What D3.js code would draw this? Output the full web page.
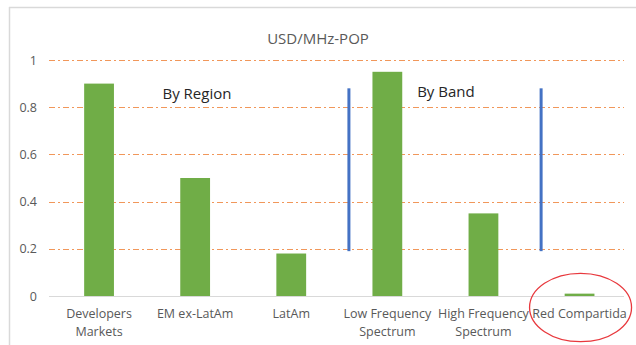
<!DOCTYPE html>
<html><head><meta charset="utf-8">
<script src="https://cdn.jsdelivr.net/npm/d3@7"></script>
<style>body{margin:0;background:#fff}svg{display:block}text{font-family:"Open Sans",sans-serif}</style>
</head><body><svg id="c" width="636" height="345"></svg>
<script>
const categories = [["Developers","Markets"],["EM ex-LatAm"],["LatAm"],["Low Frequency","Spectrum"],["High Frequency","Spectrum"],["Red Compartida"]];
const values = [0.9, 0.5, 0.18, 0.95, 0.35, 0.01];
const yTicks = [0, 0.2, 0.4, 0.6, 0.8, 1];
const dividerPos = [2.6, 4.6];      // in category units (index of centers)
const dividerRange = [0.19, 0.88];
const groupLabels = [{text:"By Region", at:0.66, v:0.835},{text:"By Band", at:3.31, v:0.845}];
const title = "USD/MHz-POP";

const svg = d3.select("#c");
svg.append("rect").attr("width",636).attr("height",345).attr("fill","#fff");
svg.append("line").attr("x1",9).attr("x2",636).attr("y1",7.5).attr("y2",7.5).attr("stroke","#d9d9d9").attr("stroke-width",1.5);
svg.append("line").attr("x1",9.5).attr("x2",9.5).attr("y1",7).attr("y2",345).attr("stroke","#d9d9d9").attr("stroke-width",1.5);

const x = d3.scaleBand().domain(d3.range(categories.length)).range([51,627.6]).paddingInner(0.69).paddingOuter(0.345);
const y = d3.scaleLinear().domain([0,1]).range([296,60]);
const step = x.step();
const cx = i => x(i) + x.bandwidth()/2;
const cxc = p => cx(0) + p*step;

svg.append("g").selectAll("line").data(yTicks.filter(d=>d>0)).join("line")
  .attr("x1",49).attr("x2",624).attr("y1",d=>Math.round(y(d))+0.5).attr("y2",d=>Math.round(y(d))+0.5)
  .attr("stroke","#ED7D31").attr("stroke-opacity",0.8).attr("stroke-width",1.2).attr("stroke-dasharray","6,3,2,3");
svg.append("line").attr("x1",49).attr("x2",624).attr("y1",y(0)+0.5).attr("y2",y(0)+0.5).attr("stroke","#d9d9d9").attr("stroke-width",1);

svg.append("g").selectAll("text").data(yTicks).join("text")
  .attr("x",37).attr("y",d=>y(d)+4.5).attr("text-anchor","end").attr("font-size",12.5).attr("fill","#595959")
  .text(d=>d3.format("~g")(d));

svg.append("g").selectAll("rect").data(values).join("rect")
  .attr("x",(d,i)=>x(i)).attr("width",x.bandwidth()).attr("y",d=>y(d)).attr("height",d=>y(0)-y(d))
  .attr("fill","#70AD47");

svg.append("g").selectAll("line").data(dividerPos).join("line")
  .attr("x1",d=>cxc(d)).attr("x2",d=>cxc(d)).attr("y1",y(dividerRange[1])).attr("y2",y(dividerRange[0]))
  .attr("stroke","#4472C4").attr("stroke-width",3);

const xl = svg.append("g").selectAll("text").data(categories).join("text")
  .attr("text-anchor","middle").attr("font-size",12.5).attr("fill","#595959");
xl.each(function(lines,i){
  const t=d3.select(this);
  lines.forEach((l,k)=>t.append("tspan").attr("x",cx(i)).attr("y",318+k*17.5).text(l));
});

svg.append("text").attr("x",318).attr("y",44).attr("text-anchor","middle").attr("font-size",15).attr("fill","#595959").text(title);

svg.append("g").selectAll("text").data(groupLabels).join("text")
  .attr("x",d=>cxc(d.at)).attr("y",d=>y(d.v)).attr("font-size",15).attr("fill","#262626").text(d=>d.text);

svg.append("ellipse").attr("cx",cx(5)+1).attr("cy",307.5).attr("rx",51).attr("ry",34.2)
  .attr("fill","none").attr("stroke","#E8383D").attr("stroke-width",1.3);
</script></body></html>
